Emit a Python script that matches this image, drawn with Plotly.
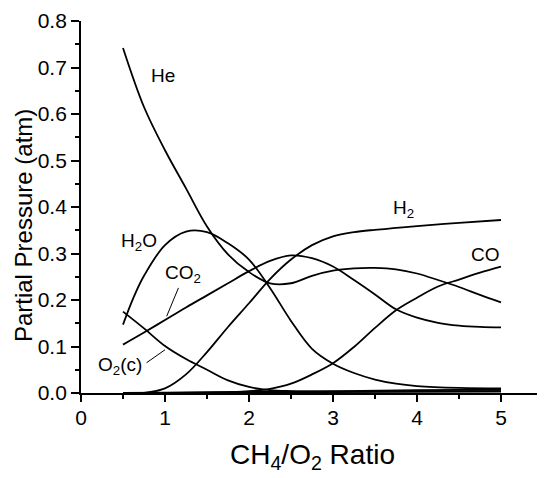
import plotly.graph_objects as go

# species curves (CH4/O2 ratio vs partial pressure, atm)
he_x = [0.5, 0.75, 1.0, 1.25, 1.5, 1.75, 2.0, 2.25, 2.5, 2.75, 3.0, 3.25, 3.5, 3.75, 4.0, 4.25, 4.5, 4.75, 5.0]
he_y = [0.742, 0.615, 0.522, 0.440, 0.358, 0.298, 0.260, 0.236, 0.236, 0.252, 0.263, 0.268, 0.269, 0.266,
        0.257, 0.243, 0.228, 0.211, 0.195]

h2o_x = [0.5, 0.625, 0.75, 1.0, 1.25, 1.5, 1.75, 2.0, 2.25, 2.5, 2.75, 3.0, 3.25, 3.5, 3.75, 4.0, 4.5, 5.0]
h2o_y = [0.147, 0.205, 0.252, 0.318, 0.347, 0.346, 0.322, 0.287, 0.226, 0.155, 0.095, 0.063, 0.043, 0.029,
         0.020, 0.015, 0.011, 0.010]

co2_x = [0.5, 0.75, 1.0, 1.25, 1.5, 1.75, 2.0, 2.25, 2.5, 2.75, 3.0, 3.25, 3.5, 3.75, 4.0, 4.25, 4.5, 4.75, 5.0]
co2_y = [0.104, 0.130, 0.157, 0.184, 0.210, 0.236, 0.262, 0.284, 0.296, 0.290, 0.272, 0.243, 0.212, 0.180,
         0.162, 0.151, 0.145, 0.142, 0.141]

h2_x = [0.5, 0.75, 1.0, 1.25, 1.5, 1.75, 2.0, 2.25, 2.5, 2.75, 3.0, 3.25, 3.5, 3.75, 4.0, 4.5, 5.0]
h2_y = [0.0, 0.0005, 0.010, 0.040, 0.088, 0.142, 0.193, 0.245, 0.287, 0.318, 0.337, 0.346, 0.351, 0.355,
        0.359, 0.366, 0.372]

co_x = [0.5, 1.0, 1.5, 1.75, 2.0, 2.25, 2.5, 2.75, 3.0, 3.25, 3.5, 3.75, 4.0, 4.25, 4.5, 4.75, 5.0]
co_y = [0.0, 0.0, 0.001, 0.002, 0.004, 0.009, 0.020, 0.040, 0.064, 0.099, 0.140, 0.178, 0.205, 0.229,
        0.244, 0.259, 0.272]

o2c_x = [0.5, 0.75, 1.0, 1.25, 1.5, 1.75, 2.0, 2.25, 2.5, 3.0, 4.0, 5.0]
o2c_y = [0.175, 0.139, 0.101, 0.073, 0.050, 0.027, 0.013, 0.006, 0.004, 0.003, 0.003, 0.003]

# two unlabelled species that hug the axis
minor1_x = [0.5, 1.0, 2.0, 3.0, 4.0, 5.0]
minor1_y = [0.0, 0.001, 0.002, 0.004, 0.006, 0.007]
minor2_x = [0.5, 1.0, 2.0, 3.0, 4.0, 5.0]
minor2_y = [0.0, 0.0, 0.001, 0.002, 0.003, 0.004]

curves = [
    ('He', he_x, he_y),
    ('H2O', h2o_x, h2o_y),
    ('CO2', co2_x, co2_y),
    ('H2', h2_x, h2_y),
    ('CO', co_x, co_y),
    ('O2(c)', o2c_x, o2c_y),
    ('minor1', minor1_x, minor1_y),
    ('minor2', minor2_x, minor2_y),
]

# curve labels: text, x, y
label_text = ['He', 'H<sub>2</sub>O', 'CO<sub>2</sub>', 'O<sub>2</sub>(c)', 'H<sub>2</sub>', 'CO']
label_x = [0.98, 0.69, 1.22, 0.47, 3.84, 4.81]
label_y = [0.683, 0.324, 0.256, 0.058, 0.396, 0.297]

# leader lines from labels to curves (x0, y0, x1, y1)
leader_co2 = [1.16, 0.226, 1.02, 0.165]
leader_o2c = [0.78, 0.065, 1.0, 0.093]

fig = go.Figure()
for name, xs, ys in curves:
    fig.add_trace(go.Scatter(
        x=xs, y=ys, mode='lines', name=name,
        line=dict(color='black', width=1.8, shape='spline', smoothing=1.0),
        showlegend=False, hoverinfo='skip'))

for t, lx, ly in zip(label_text, label_x, label_y):
    fig.add_annotation(x=lx, y=ly, xref='x', yref='y', text=t, showarrow=False,
                       xanchor='center', yanchor='middle',
                       font=dict(size=19, color='black'))

for ln in [leader_co2, leader_o2c]:
    fig.add_shape(type='line', xref='x', yref='y', x0=ln[0], y0=ln[1], x1=ln[2], y1=ln[3],
                  line=dict(color='black', width=1))

fig.add_annotation(xref='paper', yref='paper', x=0.5, y=-0.172, xanchor='center', yanchor='middle',
                   text='CH<sub>4</sub>/O<sub>2</sub> Ratio', showarrow=False,
                   font=dict(size=28, color='black'))
fig.add_annotation(xref='paper', yref='paper', x=-0.1245, y=0.45, xanchor='center', yanchor='middle',
                   text='Partial Pressure (atm)', showarrow=False, textangle=-90,
                   font=dict(size=24, color='black'))

fig.update_xaxes(range=[0, 5.5], dtick=1, showline=True, linecolor='black', linewidth=1.8,
                 ticks='outside', ticklen=7, tickwidth=1.8, tickcolor='black', ticklabelstandoff=-2,
                 minor=dict(dtick=0.5, ticks='outside', ticklen=4, tickwidth=1.5, tickcolor='black'),
                 showgrid=False, zeroline=False, tickfont=dict(size=21, color='black'))
fig.update_yaxes(range=[0, 0.8], dtick=0.1, tickformat='.1f', showline=True, linecolor='black',
                 linewidth=1.8, ticks='outside', ticklen=8, tickwidth=1.8, tickcolor='black',
                 minor=dict(dtick=0.05, ticks='outside', ticklen=4, tickwidth=1.5, tickcolor='black'),
                 showgrid=False, zeroline=False, tickfont=dict(size=21, color='black'))

# page body adds an 8px margin, so the figure is drawn 8px smaller and shifted
fig.update_layout(width=537, height=470, margin=dict(l=73, r=2, t=13, b=85),
                  plot_bgcolor='white', paper_bgcolor='white',
                  font=dict(family='Liberation Sans, Arial, sans-serif', color='black'))

fig.write_html("out.html")
